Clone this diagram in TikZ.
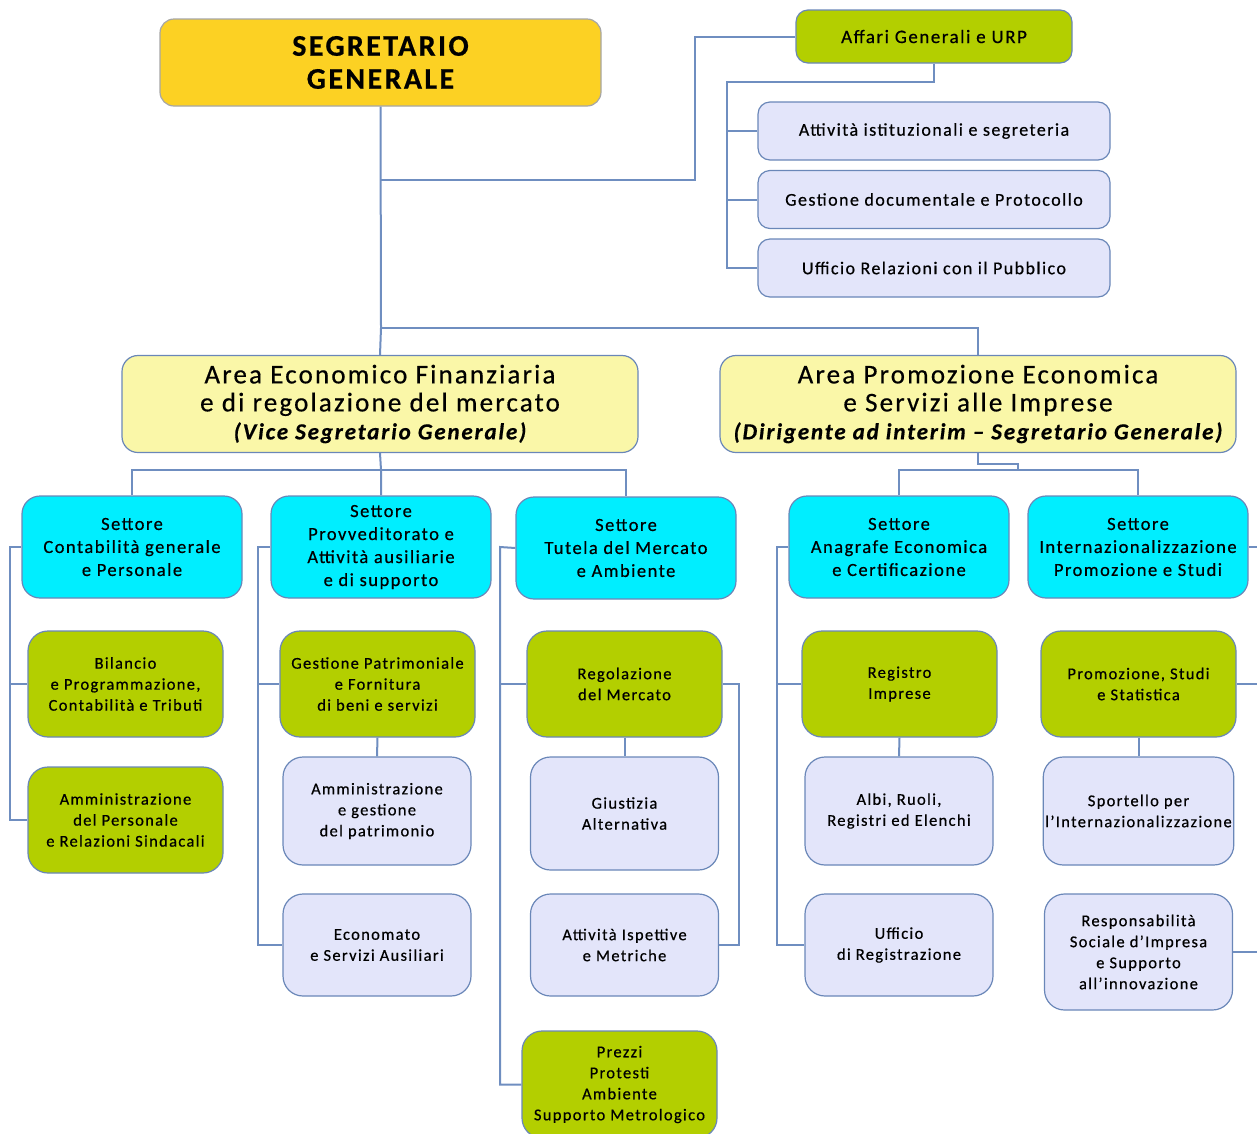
\documentclass[tikz,border=0pt]{standalone}
\usepackage{fontspec}
\setmainfont{Carlito}[LetterSpace=8, FakeBold=0.5]
\definecolor{linkblue}{HTML}{6F8EC0}
\definecolor{boxline}{HTML}{6A87B8}
\definecolor{segfill}{HTML}{FCD123}
\definecolor{areafill}{HTML}{FAF7A8}
\definecolor{setfill}{HTML}{00EEFF}
\definecolor{ufffill}{HTML}{B3CF00}
\definecolor{subfill}{HTML}{E3E5FA}
\tikzset{
  box/.style={draw=boxline, line width=1.2pt, align=center, inner sep=2pt, text=black},
  segbox/.style={box, draw=gray!70, fill=segfill, rounded corners=14pt, minimum width=441pt, minimum height=87pt, font=\bfseries\fontsize{30}{33}\selectfont},
  areabox/.style={box, fill=areafill, rounded corners=16pt, minimum width=516pt, minimum height=97pt, font=\fontsize{27}{28}\selectfont},
  setbox/.style={box, fill=setfill, rounded corners=18pt, minimum width=220pt, minimum height=102pt, font=\fontsize{18.5}{23}\selectfont},
  uffbox/.style={box, fill=ufffill, rounded corners=20pt, minimum width=195pt, minimum height=106pt, font=\fontsize{16.5}{21}\selectfont},
  subbox/.style={box, fill=subfill, rounded corners=20pt, minimum width=188pt, minimum height=108pt, font=\fontsize{16.5}{21}\selectfont},
  topbox/.style={box, fill=subfill, rounded corners=12pt, minimum width=352pt, minimum height=58pt, font=\fontsize{18}{21}\selectfont},
  link/.style={draw=linkblue, line width=2pt}
}
\begin{document}
\begin{tikzpicture}[x=1pt, y=-1pt]
    \useasboundingbox (0,0) rectangle (1257,1133);

    % nodes (offices)
    \node[segbox] (seg) at (380.5,62.5) {SEGRETARIO\\GENERALE};
    \node[box, fill=ufffill, rounded corners=12pt, minimum width=276pt, minimum height=53pt, font=\fontsize{19}{20}\selectfont] (affari) at (934,36.5) {Affari Generali e URP};
    \node[topbox] (ist) at (934,131) {Attività istituzionali e segreteria};
    \node[topbox] (doc) at (934,199.5) {Gestione documentale e Protocollo};
    \node[topbox] (urp) at (934,268) {Ufficio Relazioni con il Pubblico};

    \node[areabox] (areaEF) at (380,404) {Area Economico Finanziaria\\e di regolazione del mercato\\{\bfseries\itshape\fontsize{23}{28}\selectfont (Vice Segretario Generale)}};
    \node[areabox] (areaPE) at (978,404) {Area Promozione Economica\\e Servizi alle Imprese\\{\bfseries\itshape\fontsize{23}{28}\selectfont (Dirigente ad interim – Segretario Generale)}};

    \node[setbox] (setCont) at (132,547) {Settore\\Contabilità generale\\e Personale};
    \node[setbox] (setProv) at (381,547) {Settore\\Provveditorato e\\Attività ausiliarie\\e di supporto};
    \node[setbox] (setTut) at (626,548) {Settore\\Tutela del Mercato\\e Ambiente};
    \node[setbox] (setAnag) at (899,547) {Settore\\Anagrafe Economica\\e Certificazione};
    \node[setbox] (setInt) at (1138,547) {Settore\\Internazionalizzazione\\Promozione e Studi};

    \node[uffbox] (uffBil) at (125.5,684) {Bilancio\\e Programmazione,\\Contabilità e Tributi};
    \node[uffbox] (uffPers) at (125.5,820) {Amministrazione\\del Personale\\e Relazioni Sindacali};
    \node[uffbox] (uffPatr) at (377.5,684) {Gestione Patrimoniale\\e Fornitura\\di beni e servizi};
    \node[uffbox] (uffReg) at (624.5,684) {Regolazione\\del Mercato};
    \node[uffbox, minimum height=107pt] (uffPrezzi) at (619.5,1084.5) {Prezzi\\Protesti\\Ambiente\\Supporto Metrologico};
    \node[uffbox] (uffRI) at (899.5,684) {Registro\\Imprese};
    \node[uffbox] (uffProm) at (1138.5,684) {Promozione, Studi\\e Statistica};

    \node[subbox] (subPatr) at (377,811) {Amministrazione\\e gestione\\del patrimonio};
    \node[subbox, minimum height=102pt] (subEcon) at (377,945) {Economato\\e Servizi Ausiliari};
    \node[subbox, minimum height=113pt] (subGiust) at (624.5,813.5) {Giustizia\\Alternativa};
    \node[subbox, minimum height=102pt] (subIsp) at (624.5,945) {Attività Ispettive\\e Metriche};
    \node[subbox] (subAlbi) at (899,811) {Albi, Ruoli,\\Registri ed Elenchi};
    \node[subbox, minimum height=102pt] (subUffReg) at (899,945) {Ufficio\\di Registrazione};
    \node[subbox] (subSport) at (1138.5,811) {Sportello per\\l'Internazionalizzazione};
    \node[subbox, minimum height=116pt] (subRSI) at (1138.5,952) {Responsabilità\\Sociale d'Impresa\\e Supporto\\all'innovazione};

    % junctions
    \coordinate (jSeg) at (381,180);
    \coordinate (jArea) at (381,328);
    \coordinate (jAff) at (727,82);
    \coordinate (jEF) at (381,470);
    \coordinate (jPE) at (1018,470);
    \coordinate (tCont) at (10,547);
    \coordinate (tProv) at (258,547);
    \coordinate (tTut) at (500,547);
    \coordinate (tAnag) at (777,547);

    % edges
    \draw[link] (seg.south) -- (jArea) -- (areaEF.north); % seg -> areaEF
    \draw[link] (jArea) -| (areaPE.north); % seg -> areaPE
    \draw[link] (jSeg) -- ++(314,0) |- (affari.west); % seg -> affari
    \draw[link] (affari.south) |- (jAff) |- (urp.west); % affari -> urp
    \draw[link] (jAff) |- (ist.west); % affari -> ist
    \draw[link] (jAff) |- (doc.west); % affari -> doc

    \draw[link] (areaEF.south) -- (jEF) -- (setProv.north); % areaEF -> setProv
    \draw[link] (setCont.north) |- (jEF) -| (setTut.north); % areaEF -> setCont, setTut
    \draw[link] (areaPE.south) -- ++(0,11) -| (jPE); % areaPE -> jPE
    \draw[link] (setAnag.north) |- (jPE) -| (setInt.north); % areaPE -> setAnag, setInt

    \draw[link] (setCont.west) -- (tCont) |- (uffPers.west); % setCont -> uffPers
    \draw[link] (tCont) |- (uffBil.west); % setCont -> uffBil

    \draw[link] (setProv.west) -- (tProv) |- (subEcon.west); % setProv -> subEcon
    \draw[link] (tProv) |- (uffPatr.west); % setProv -> uffPatr
    \draw[link] (uffPatr.south) -- (subPatr.north); % uffPatr -> subPatr

    \draw[link] (setTut.west) -- (tTut) |- (uffPrezzi.west); % setTut -> uffPrezzi
    \draw[link] (tTut) |- (uffReg.west); % setTut -> uffReg
    \draw[link] (uffReg.south) -- (subGiust.north); % uffReg -> subGiust
    \draw[link] (uffReg.east) -- ++(16,0) |- (subIsp.east); % uffReg -> subIsp

    \draw[link] (setAnag.west) -- (tAnag) |- (subUffReg.west); % setAnag -> subUffReg
    \draw[link] (tAnag) |- (uffRI.west); % setAnag -> uffRI
    \draw[link] (uffRI.south) -- (subAlbi.north); % uffRI -> subAlbi

    \draw[link] (setInt.east) -- ++(14,0) coordinate (tInt) |- (subRSI.east); % setInt -> subRSI
    \draw[link] (tInt) |- (uffProm.east); % setInt -> uffProm
    \draw[link] (uffProm.south) -- (subSport.north); % uffProm -> subSport

\end{tikzpicture}
\end{document}
